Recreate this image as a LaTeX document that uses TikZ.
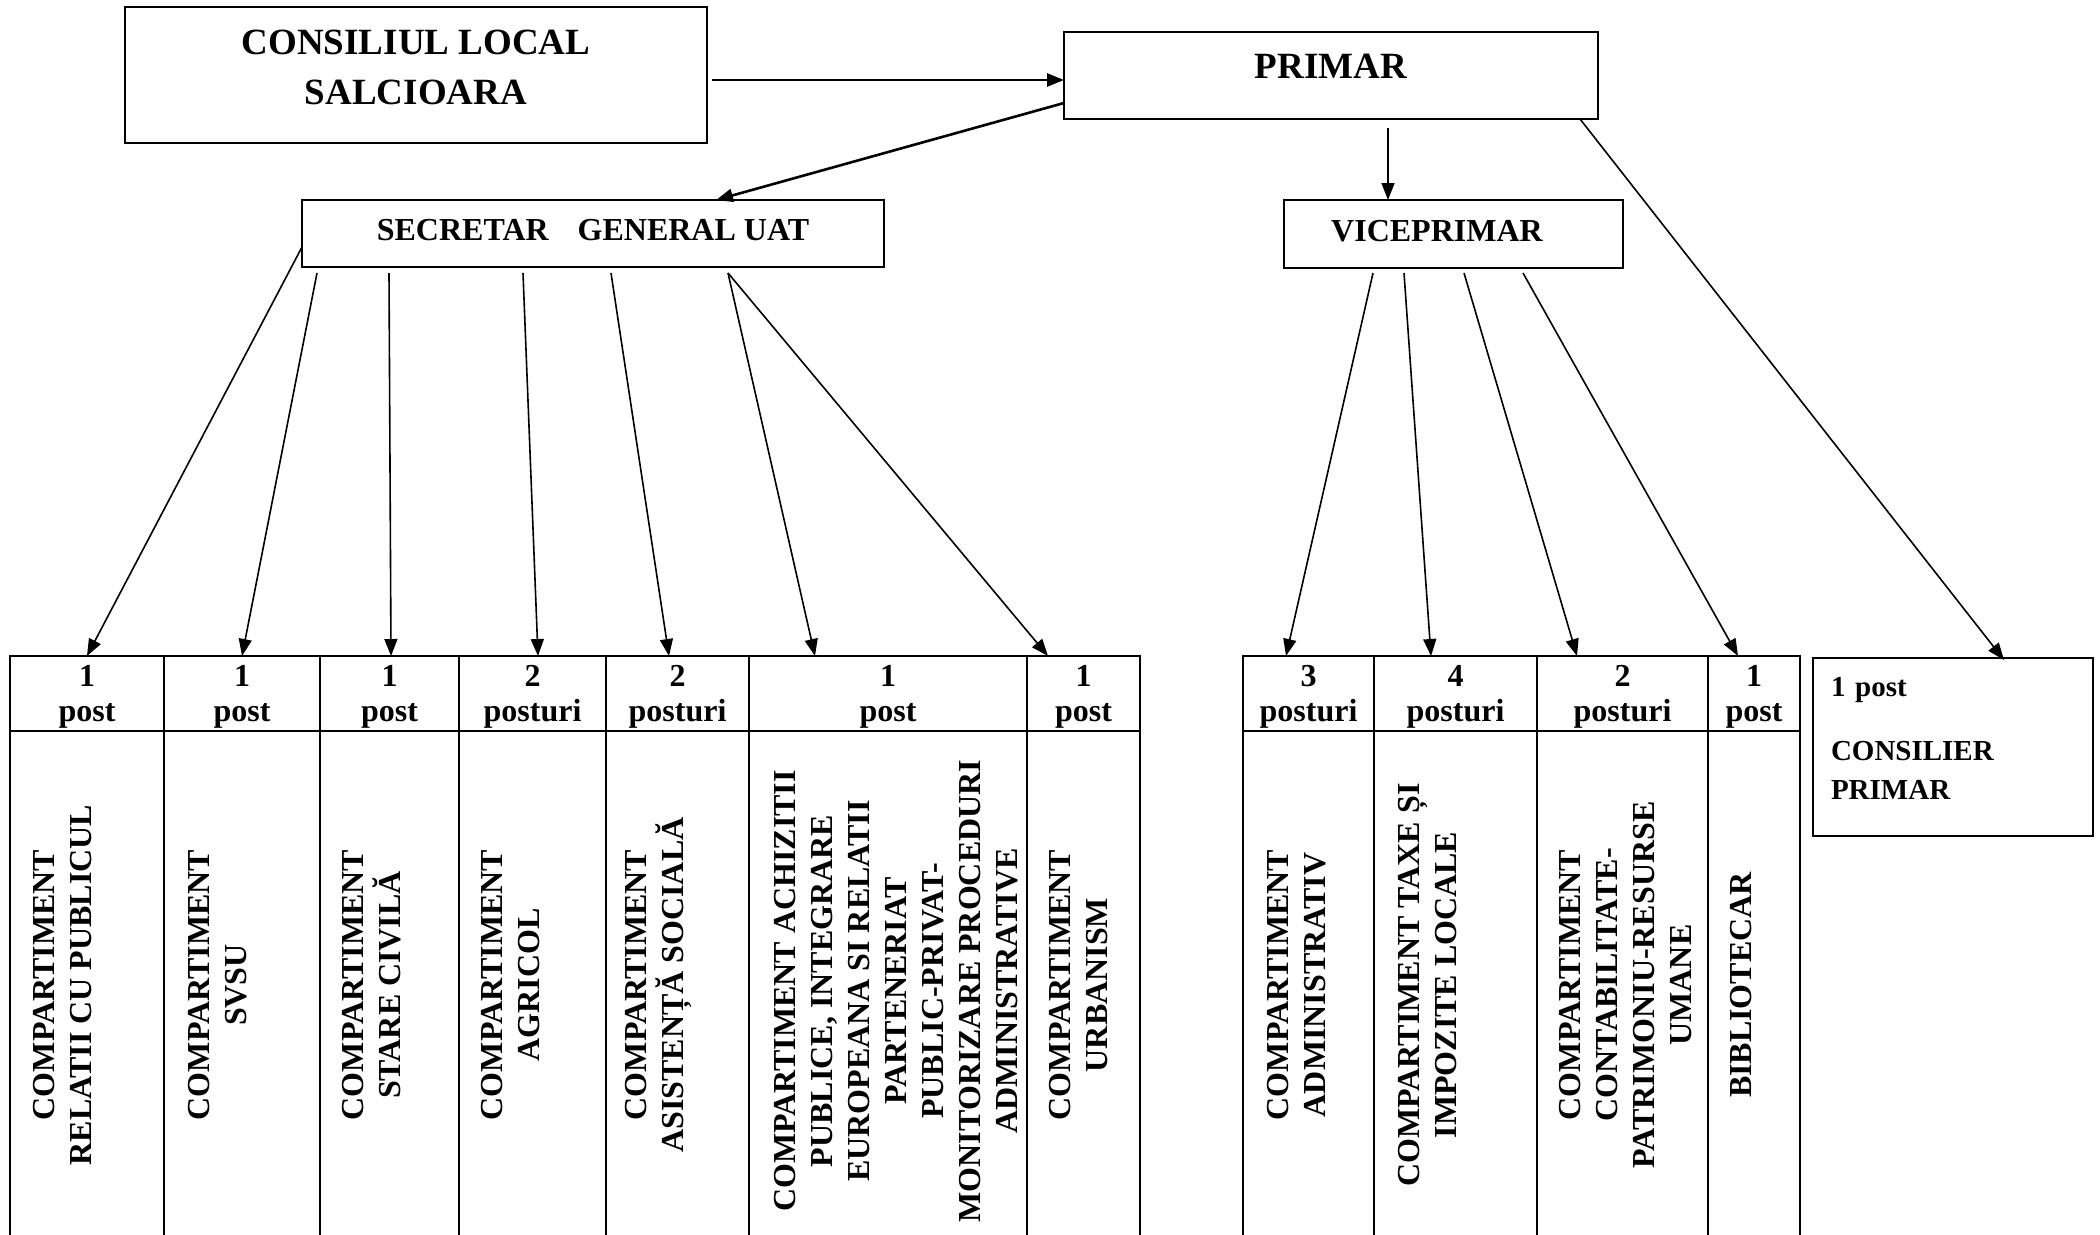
\documentclass[tikz,border=0pt]{standalone}
\usepackage{fontspec}
\setmainfont{Liberation Serif}
\usetikzlibrary{arrows.meta,positioning}

\newcommand{\bigfont}{\fontsize{37pt}{50pt}\selectfont\bfseries}
\newcommand{\midfont}{\fontsize{32pt}{37pt}\selectfont\bfseries}
\newcommand{\hdrfont}{\fontsize{32pt}{35pt}\selectfont\bfseries}
\newcommand{\consfont}{\fontsize{29pt}{39pt}\selectfont\bfseries}

\tikzset{
	box/.style={draw,line width=2pt,inner sep=0pt,outer sep=0pt,align=center},
	hdr/.style={draw,line width=2.5pt,inner sep=0pt,outer sep=0pt,minimum height=75pt,align=center,font=\hdrfont,text depth=0pt},
	vtext/.style={rotate=90,align=center,inner sep=0pt,font=\midfont},
	arr/.style={-{Triangle[length=17pt,width=13pt]},line width=1.6pt},
	arrthick/.style={arr,line width=2.6pt}
}

\begin{document}
\begin{tikzpicture}[x=1pt,y=-1pt,node distance=0pt]
	\useasboundingbox (0,0) rectangle (2100,1234);
	\clip (0,0) rectangle (2100,1234);

	\node[box,minimum width=582pt,minimum height=136pt,font=\bigfont,text depth=16pt] (cl) at (416,75) {CONSILIUL LOCAL\\SALCIOARA};
	\node[box,minimum width=534pt,minimum height=87pt,font=\bigfont,text depth=19pt] (primar) at (1331,75.5) {PRIMAR};
	\node[box,minimum width=582pt,minimum height=67pt,font=\midfont,text depth=7pt] (sec) at (593,233.5) {SECRETAR\hspace{29pt}GENERAL UAT};
	\node[box,minimum width=339pt,minimum height=68pt,font=\midfont,text depth=7pt] (vice) at (1453.5,234) {VICEPRIMAR\hspace*{33pt}};
	\node[box,minimum width=280pt,minimum height=178pt,text width=244pt,align=left,font=\consfont,text height=20pt,text depth=121pt] (cons) at (1953,747) {1 post\\[25pt]CONSILIER\\PRIMAR};

	\node[hdr,minimum width=154pt] (h1) at (87,693.5) {1\\post};
	\node[hdr,minimum width=156pt,right=of h1] (h2) {1\\post};
	\node[hdr,minimum width=139pt,right=of h2] (h3) {1\\post};
	\node[hdr,minimum width=147pt,right=of h3] (h4) {2\\posturi};
	\node[hdr,minimum width=143pt,right=of h4] (h5) {2\\posturi};
	\node[hdr,minimum width=278pt,right=of h5] (h6) {1\\post};
	\node[hdr,minimum width=113pt,right=of h6] (h7) {1\\post};

	\node[hdr,minimum width=131pt] (hA) at (1308.5,693.5) {3\\posturi};
	\node[hdr,minimum width=163pt,right=of hA] (hB) {4\\posturi};
	\node[hdr,minimum width=171pt,right=of hB] (hC) {2\\posturi};
	\node[hdr,minimum width=92pt,right=of hC] (hD) {1\\post};

	\foreach \c in {1,2,3,4,5,6,7,A,B,C,D}
		\draw[line width=2.5pt] (h\c.south west) rectangle ([yshift=-530pt]h\c.south east);

	\node[vtext] (c1) at (62.5,985) {COMPARTIMENT\\RELATII CU PUBLICUL};
	\node[vtext] (c2) at (217.5,985) {COMPARTIMENT\\SVSU};
	\node[vtext] (c3) at (371.5,985) {COMPARTIMENT\\STARE CIVILĂ};
	\node[vtext] (c4) at (511,985) {COMPARTIMENT\\AGRICOL};
	\node[vtext] (c5) at (658.5,985) {COMPARTIMENT\\ASISTENȚĂ SOCIALĂ};
	\node[vtext] (c6) at (896.5,991) {COMPARTIMENT ACHIZITII\\PUBLICE, INTEGRARE\\EUROPEANA SI RELATII\\PARTENERIAT\\PUBLIC-PRIVAT-\\MONITORIZARE PROCEDURI\\ADMINISTRATIVE};
	\node[vtext] (c7) at (1079,985) {COMPARTIMENT\\URBANISM};
	\node[vtext] (cA) at (1297,985) {COMPARTIMENT\\ADMINISTRATIV};
	\node[vtext] (cB) at (1427.5,985) {COMPARTIMENT TAXE ȘI\\IMPOZITE LOCALE};
	\node[vtext] (cC) at (1625.5,985) {COMPARTIMENT\\CONTABILITATE-\\PATRIMONIU-RESURSE\\UMANE};
	\node[vtext] (cD) at (1741,985) {BIBLIOTECAR};

	\draw[arrthick] ([xshift=5pt,yshift=-5pt]cl.east) -- ([yshift=-4.5pt]primar.west);
	\draw[arrthick] ([yshift=-27.5pt]primar.west) -- ([xshift=123pt]sec.north);
	\draw[arr] ([xshift=57pt,yshift=-9pt]primar.south) coordinate (pv) -- (pv |- vice.north);
	\draw[arr] ([xshift=-18pt]primar.south east) -- ([xshift=51pt,yshift=-2pt]cons.north);

	\path[arr]
		([yshift=-13.5pt]sec.west) edge (h1.north)
		([xshift=15pt,yshift=-6pt]sec.south west) edge (h2.north)
		([xshift=87pt,yshift=-6pt]sec.south west) edge ([xshift=1.5pt]h3.north)
		([xshift=221pt,yshift=-6pt]sec.south west) edge ([xshift=5.5pt]h4.north)
		([xshift=309pt,yshift=-6pt]sec.south west) edge ([xshift=-8.5pt]h5.north)
		([xshift=426pt,yshift=-6pt]sec.south west) edge ([xshift=-73pt]h6.north)
		([xshift=426pt,yshift=-6pt]sec.south west) edge ([xshift=-35.5pt]h7.north)
		;
	\path[arr]
		([xshift=89pt,yshift=-5pt]vice.south west) edge ([xshift=-22.5pt]hA.north)
		([xshift=120pt,yshift=-5pt]vice.south west) edge ([xshift=-24.5pt]hB.north)
		([xshift=180pt,yshift=-5pt]vice.south west) edge ([xshift=-45.5pt]hC.north)
		([xshift=239pt,yshift=-5pt]vice.south west) edge ([xshift=-16pt]hD.north)
		;
\end{tikzpicture}
\end{document}
